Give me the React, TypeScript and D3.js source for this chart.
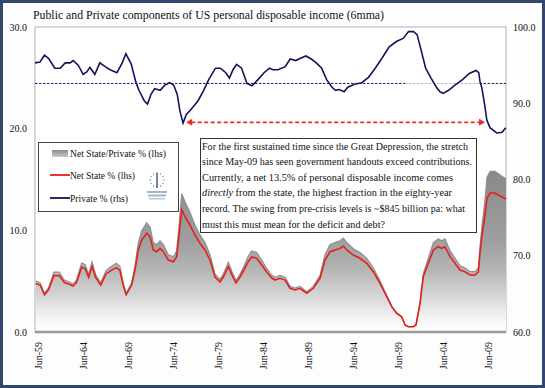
import React from 'react';
import * as d3 from 'd3';

// Private % of personal disposable income (rhs), [year, value]
const privateYears = [1959.0, 1959.55, 1960.05, 1960.5, 1961.2, 1961.8, 1962.35, 1962.9, 1963.25, 1963.8, 1964.35, 1964.75, 1965.1, 1965.65, 1966.2, 1966.8, 1967.35, 1968.1, 1968.65, 1969.1, 1969.7, 1970.2, 1970.55, 1971.15, 1971.5, 1971.9, 1972.3, 1972.9, 1973.45, 1973.95, 1974.4, 1974.8, 1975.1, 1975.45, 1975.8, 1976.35, 1977.1, 1977.7, 1978.3, 1979.05, 1979.6, 1980.2, 1980.6, 1981.0, 1981.4, 1981.95, 1982.55, 1983.1, 1983.7, 1984.45, 1985.05, 1985.45, 1986.0, 1986.8, 1987.35, 1987.95, 1988.5, 1989.1, 1989.7, 1990.25, 1990.85, 1991.4, 1992.0, 1992.4, 1992.8, 1993.35, 1993.75, 1994.5, 1995.3, 1996.05, 1996.8, 1997.6, 1998.35, 1999.15, 1999.9, 2000.5, 2001.05, 2001.45, 2001.85, 2002.4, 2003.0, 2003.6, 2004.0, 2004.35, 2004.95, 2005.7, 2006.5, 2007.25, 2008.0, 2008.3, 2008.45, 2008.65, 2009.0, 2009.2, 2009.55, 2010.3, 2010.9, 2011.3];
const privatePct = [95.3, 95.4, 96.3, 95.9, 94.6, 94.6, 95.3, 95.3, 95.6, 95.0, 93.8, 94.1, 94.7, 93.8, 95.3, 94.8, 94.4, 94.0, 95.2, 96.5, 95.1, 92.8, 91.7, 90.3, 89.9, 91.2, 91.9, 91.7, 92.4, 92.7, 92.4, 91.2, 89.0, 87.4, 88.5, 89.2, 90.3, 91.6, 93.1, 94.6, 94.6, 94.0, 93.3, 94.4, 95.1, 94.6, 92.6, 92.3, 93.0, 94.0, 94.6, 94.4, 94.4, 94.8, 95.8, 95.6, 95.9, 96.2, 95.8, 95.3, 94.6, 93.1, 92.1, 91.7, 91.8, 91.5, 92.1, 92.5, 92.7, 93.4, 94.6, 96.0, 97.4, 98.1, 98.5, 99.4, 99.4, 99.0, 97.2, 94.6, 93.3, 92.1, 91.5, 91.3, 91.7, 92.4, 93.1, 93.9, 94.3, 94.0, 92.8, 92.0, 89.5, 87.8, 86.8, 86.1, 86.2, 86.8];

// Net State % (lhs) and Net State/Private % (lhs)
const netYears = [1959.09, 1959.56, 1960.06, 1960.52, 1961.1, 1961.68, 1962.26, 1962.83, 1963.22, 1963.61, 1964.19, 1964.58, 1964.96, 1965.34, 1965.73, 1966.31, 1966.89, 1967.47, 1968.04, 1968.43, 1968.82, 1969.13, 1969.74, 1970.11, 1970.48, 1970.86, 1971.41, 1971.78, 1972.14, 1972.52, 1972.89, 1973.26, 1973.81, 1974.37, 1974.74, 1975.03, 1975.3, 1975.67, 1976.22, 1976.78, 1977.33, 1977.89, 1978.44, 1979.0, 1979.56, 1979.92, 1980.48, 1980.89, 1981.33, 1981.78, 1982.22, 1982.67, 1983.08, 1983.63, 1984.19, 1984.74, 1985.3, 1985.67, 1986.22, 1986.78, 1987.33, 1987.89, 1988.44, 1989.19, 1989.92, 1990.67, 1991.22, 1991.78, 1992.33, 1992.89, 1993.26, 1993.63, 1994.37, 1995.11, 1995.86, 1996.59, 1997.33, 1998.08, 1998.63, 1999.19, 1999.74, 2000.11, 2000.48, 2001.03, 2001.33, 2001.78, 2002.14, 2002.7, 2003.26, 2003.81, 2004.19, 2004.56, 2005.11, 2005.67, 2006.22, 2006.78, 2007.33, 2007.89, 2008.26, 2008.44, 2008.67, 2009.0, 2009.22, 2009.56, 2010.11, 2010.67, 2011.33];
const netState = [4.76, 4.62, 3.66, 4.18, 5.55, 5.55, 4.86, 4.69, 4.52, 4.86, 6.39, 6.23, 5.37, 6.46, 5.37, 4.62, 5.71, 6.06, 6.33, 6.06, 4.52, 3.66, 4.62, 6.1, 8.07, 9.05, 9.71, 9.37, 8.07, 7.9, 8.23, 7.9, 7.08, 6.91, 7.41, 9.71, 12.0, 11.34, 10.52, 9.54, 8.72, 8.07, 7.08, 5.41, 4.92, 5.41, 6.42, 5.6, 4.82, 5.41, 6.1, 6.89, 7.38, 7.25, 6.59, 5.9, 5.31, 5.11, 5.28, 5.11, 4.3, 4.13, 4.3, 3.81, 4.3, 5.28, 7.08, 7.9, 8.07, 8.23, 8.46, 8.07, 7.57, 7.25, 6.76, 5.93, 4.79, 3.47, 2.49, 1.84, 1.5, 0.69, 0.52, 0.52, 0.69, 2.82, 5.44, 6.76, 8.07, 8.39, 8.23, 8.39, 7.41, 6.76, 6.1, 5.93, 5.61, 5.61, 5.93, 7.74, 9.54, 11.51, 13.18, 13.67, 13.67, 13.38, 13.08];
const netStatePrivate = [5.0, 4.85, 3.8, 4.36, 5.88, 5.88, 5.11, 4.92, 4.73, 5.11, 6.8, 6.62, 5.66, 6.88, 5.66, 4.84, 6.04, 6.45, 6.76, 6.45, 4.73, 3.8, 4.84, 6.5, 8.8, 9.95, 10.75, 10.3, 8.8, 8.6, 8.97, 8.6, 7.6, 7.4, 8.0, 10.75, 13.6, 12.8, 11.75, 10.5, 9.55, 8.8, 7.6, 5.7, 5.17, 5.7, 6.86, 5.93, 5.06, 5.7, 6.5, 7.4, 7.97, 7.82, 7.05, 6.27, 5.6, 5.38, 5.57, 5.38, 4.49, 4.31, 4.49, 3.96, 4.49, 5.57, 7.6, 8.6, 8.8, 8.97, 9.24, 8.8, 8.19, 7.82, 7.25, 6.3, 5.03, 3.6, 2.55, 1.87, 1.52, 0.7, 0.53, 0.53, 0.7, 2.9, 5.75, 7.25, 8.8, 9.16, 8.97, 9.16, 8.0, 7.25, 6.5, 6.3, 5.94, 5.94, 6.3, 8.4, 10.5, 13.0, 15.2, 15.8, 15.8, 15.45, 15.05];

const xTickLabels = ['Jun-59', 'Jun-64', 'Jun-69', 'Jun-74', 'Jun-79', 'Jun-84', 'Jun-89', 'Jun-94', 'Jun-99', 'Jun-04', 'Jun-09'];
const leftTicks = [0, 10, 20, 30];
const rightTicks = [60, 70, 80, 90, 100];

const privateAverage = 92.6;
const avgSegments = [[1959.0, 2000.1, '#1a1a5e'], [2000.1, 2008.4, '#b4b4c4'], [2008.4, 2011.33, '#1a1a5e']];
const arrowSpan = [1975.8, 2009.0];
const arrowLevel = 87.5;

const title = 'Public and Private components of US personal disposable income (6mma)';
const legendItems = [
  { label: 'Net State/Private % (lhs)', width: 96 },
  { label: 'Net State % (lhs)', width: 65 },
  { label: 'Private % (rhs)', width: 58 },
];
const noteLines = [
  'For the first sustained time since the Great Depression, the stretch',
  'since May-09 has seen government handouts exceed contributions.',
  'Currently, a net 13.5% of personal disposable income comes',
  null,
  'record.  The swing from pre-crisis levels is ~$845 billion pa: what',
  'must this must mean for the deficit and debt?',
];
const noteWidths = [266, 270, 251, 250, 263, 183];

const W = 545;
const H = 388;
const font = '"Liberation Serif", "Times New Roman", serif';

export default function App() {
  const x = d3.scaleLinear().domain([1959.0, 2011.33]).range([35, 506]);
  const yL = d3.scaleLinear().domain([0, 30]).range([332, 27]);
  const yR = d3.scaleLinear().domain([60, 100]).range([332, 27]);

  const net = netYears.map((t, i) => ({ t, v: netState[i], r: netStatePrivate[i] }));
  const priv = privateYears.map((t, i) => ({ t, v: privatePct[i] }));

  const area = d3.area<any>().x(d => x(d.t)).y0(yL(0)).y1(d => yL(d.r));
  const ratioTop = d3.line<any>().x(d => x(d.t)).y(d => yL(d.r));
  const netLine = d3.line<any>().x(d => x(d.t)).y(d => yL(d.v));
  const privLine = d3.line<any>().x(d => x(d.t)).y(d => yR(d.v));

  const tickYear = (s: string) => {
    const yy = +s.slice(4);
    return (yy > 50 ? 1900 : 2000) + yy + 5 / 12;
  };

  const ay = yR(arrowLevel);
  const ax0 = x(arrowSpan[0]);
  const ax1 = x(arrowSpan[1]);

  return (
    <svg width={W} height={H} style={{ position: 'absolute', left: 0, top: 0 }} fontFamily={font}>
      <defs>
        <linearGradient id="gArea" gradientUnits="userSpaceOnUse" x1="0" y1="170" x2="0" y2="332">
          <stop offset="0" stopColor="#888888" />
          <stop offset="0.45" stopColor="#a0a0a0" />
          <stop offset="0.62" stopColor="#b6b6b6" />
          <stop offset="0.76" stopColor="#d2d2d2" />
          <stop offset="0.86" stopColor="#e9e9e9" />
          <stop offset="0.94" stopColor="#f8f8f8" />
          <stop offset="1" stopColor="#ffffff" />
        </linearGradient>
        <linearGradient id="gSwatch" x1="0" y1="0" x2="0" y2="1">
          <stop offset="0" stopColor="#8c8c8c" />
          <stop offset="1" stopColor="#c8c8c8" />
        </linearGradient>
      </defs>

      <rect x={1.5} y={1.5} width={W - 3} height={H - 3} fill="#fdfdfd" stroke="#34466e" strokeWidth={3} />

      <text x={33} y={19} fontSize={12.5} fill="#111" textLength={351} lengthAdjust="spacingAndGlyphs">{title}</text>

      {/* plot frame */}
      <rect x={35} y={27} width={471} height={305} fill="#fff" stroke="#b0b0b0" strokeWidth={1} />

      <path d={area(net) || ''} fill="url(#gArea)" />
      <path d={ratioTop(net) || ''} fill="none" stroke="#8e8e8e" strokeWidth={1.2} />
      <path d={netLine(net) || ''} fill="none" stroke="#e3201b" strokeWidth={1.6} />

      {avgSegments.map(([a, b, c], i) => (
        <line key={i} x1={x(a as number)} x2={x(b as number)} y1={yR(privateAverage)} y2={yR(privateAverage)}
          stroke={c as string} strokeWidth={1} strokeDasharray="2.5,1.5" />
      ))}

      <path d={privLine(priv) || ''} fill="none" stroke="#14145c" strokeWidth={1.6} />

      {/* red arrow */}
      <line x1={ax0 + 5} x2={ax1 - 5} y1={ay} y2={ay} stroke="#e5302a" strokeWidth={1.8} strokeDasharray="4,2.5" />
      <path d={`M${ax0},${ay} L${ax0 + 6},${ay - 3.5} L${ax0 + 6},${ay + 3.5} Z`} fill="#e5302a" />
      <path d={`M${ax1},${ay} L${ax1 - 6},${ay - 3.5} L${ax1 - 6},${ay + 3.5} Z`} fill="#e5302a" />

      {/* x axis */}
      <line x1={35} x2={506} y1={332} y2={332} stroke="#9a9a9a" strokeWidth={2.5} />
      {xTickLabels.map(s => (
        <text key={s} transform={`translate(${x(tickYear(s)) + 3.5},342) rotate(-90)`} textAnchor="end" fontSize={10} fill="#111">{s}</text>
      ))}
      {leftTicks.map(v => (
        <text key={v} x={27} y={yL(v) + 3.5} textAnchor="end" fontSize={10} fill="#111">{v.toFixed(1)}</text>
      ))}
      {rightTicks.map(v => (
        <text key={v} x={513} y={yR(v) + 3.5} fontSize={10} fill="#111">{v.toFixed(1)}</text>
      ))}

      {/* legend */}
      <rect x={38.5} y={142.5} width={140} height={69} fill="#fff" stroke="#444" strokeWidth={1} />
      <rect x={52} y={150} width={16} height={7} fill="url(#gSwatch)" />
      <line x1={50} x2={70} y1={175} y2={175} stroke="#e3201b" strokeWidth={1.8} />
      <line x1={50} x2={70} y1={198} y2={198} stroke="#14145c" strokeWidth={1.8} />
      {legendItems.map((d, i) => (
        <text key={d.label} x={70} y={157 + i * 22.3} fontSize={10} fill="#111" textLength={d.width} lengthAdjust="spacingAndGlyphs">{d.label}</text>
      ))}
      {/* logo */}
      <g>
        {d3.range(12).map(i => {
          const a = (i / 12) * Math.PI * 2;
          return <circle key={i} cx={157 + 7 * Math.cos(a)} cy={180 + 7 * Math.sin(a)} r={0.7} fill="#6f86a8" />;
        })}
        <line x1={157} x2={157} y1={173} y2={188} stroke="#23336a" strokeWidth={1.2} />
        <rect x={147} y={191} width={20} height={2} fill="#9fb5cc" />
        <rect x={148} y={194.5} width={18} height={2} fill="#9fb5cc" />
        <rect x={149} y={198} width={16} height={1.5} fill="#b8c9da" />
      </g>

      {/* annotation */}
      <rect x={200.5} y={138.5} width={276} height={94} fill="#fff" stroke="#333" strokeWidth={1} />
      {noteLines.map((s, i) => {
        const yy = 149.5 + i * 15.6;
        if (s === null) {
          return (
            <text key={i} x={202} y={yy} fontSize={10.5} fill="#111" textLength={noteWidths[i]} lengthAdjust="spacingAndGlyphs">
              <tspan fontStyle="italic">directly</tspan>
              <tspan>{'  from the state, the highest fraction in the eighty-year'}</tspan>
            </text>
          );
        }
        return (
          <text key={i} x={202} y={yy} fontSize={10.5} fill="#111" textLength={noteWidths[i]} lengthAdjust="spacingAndGlyphs">{s}</text>
        );
      })}
    </svg>
  );
}
